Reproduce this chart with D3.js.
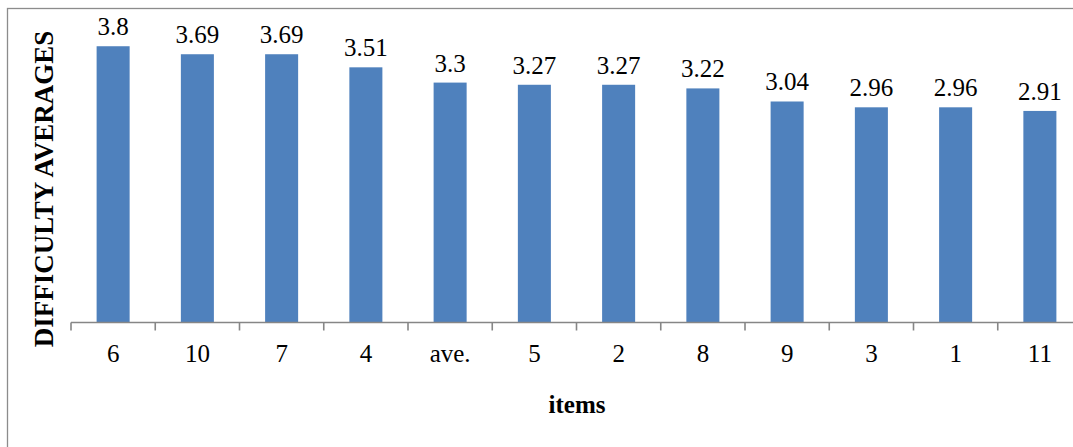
<!DOCTYPE html>
<html>
<head>
<meta charset="utf-8">
<script src="https://cdn.jsdelivr.net/npm/d3@7/dist/d3.min.js"></script>
<style>
  html, body { margin: 0; padding: 0; background: #fff; }
  svg { display: block; }
</style>
</head>
<body>
<svg id="chart" width="1073" height="447"></svg>
<script>
const categories = ["6", "10", "7", "4", "ave.", "5", "2", "8", "9", "3", "1", "11"];
const values = [3.8, 3.69, 3.69, 3.51, 3.3, 3.27, 3.27, 3.22, 3.04, 2.96, 2.96, 2.91];
const labels = ["3.8", "3.69", "3.69", "3.51", "3.3", "3.27", "3.27", "3.22", "3.04", "2.96", "2.96", "2.91"];
const yTitle = "DIFFICULTY AVERAGES";
const xTitle = "items";

const FONT = "'Liberation Serif', Tinos, 'Times New Roman', 'DejaVu Serif', serif";

const svg = d3.select("#chart").style("font-family", FONT);
const W = 1073, H = 447;

// outer frame (clipped at right/bottom like the reference)
svg.append("rect")
  .attr("x", 7.5).attr("y", 8.5)
  .attr("width", 1200).attr("height", 600)
  .attr("fill", "none").attr("stroke", "#8c8c8c").attr("stroke-width", 1.3);

const plotLeft = 71, step = 84.25;
const x = d3.scaleBand().domain(categories)
  .range([plotLeft, plotLeft + step * categories.length]).padding(0);
const y = d3.scaleLinear().domain([0, 4]).range([322.5, 31.7]);

const barW = x.bandwidth() * 0.392;

svg.append("g").selectAll("rect")
  .data(categories)
  .join("rect")
  .attr("x", (d) => x(d) + x.bandwidth() / 2 - barW / 2)
  .attr("y", (d, i) => y(values[i]))
  .attr("width", barW)
  .attr("height", (d, i) => y(0) - y(values[i]))
  .attr("fill", "#4F81BD");

// value labels
svg.append("g").selectAll("text")
  .data(categories)
  .join("text")
  .attr("x", (d) => x(d) + x.bandwidth() / 2)
  .attr("y", (d, i) => y(values[i]) - 11)
  .attr("text-anchor", "middle")
  .style("font-family", FONT)
  .attr("font-size", 25)
  .attr("fill", "#000")
  .text((d, i) => labels[i]);

// x axis
const axisG = svg.append("g").attr("transform", `translate(0,${y(0)})`);
axisG.call(d3.axisBottom(x).tickSize(0).tickPadding(22));
axisG.attr("font-family", null).attr("font-size", null);
axisG.select(".domain").remove();
axisG.selectAll("text")
  .style("font-family", FONT)
  .attr("font-size", 25)
  .attr("fill", "#000")
  .attr("dy", "0.71em");
axisG.append("line")
  .attr("x1", plotLeft).attr("x2", W + 20)
  .attr("y1", 0).attr("y2", 0)
  .attr("stroke", "#868686").attr("stroke-width", 1.6);
const bounds = categories.map((d) => x(d)).concat([x.range()[1]]);
axisG.selectAll("line.tk")
  .data(bounds)
  .join("line")
  .attr("class", "tk")
  .attr("x1", (d) => d).attr("x2", (d) => d)
  .attr("y1", 0).attr("y2", 8)
  .attr("stroke", "#868686").attr("stroke-width", 1.6);

// axis titles
svg.append("text")
  .attr("transform", `translate(53,${189}) rotate(-90)`)
  .attr("text-anchor", "middle")
  .style("font-family", FONT)
  .attr("font-size", 27)
  .attr("font-weight", "bold")
  .attr("fill", "#000")
  .text(yTitle);

svg.append("text")
  .attr("x", 577).attr("y", 413)
  .attr("text-anchor", "middle")
  .style("font-family", FONT)
  .attr("font-size", 25)
  .attr("font-weight", "bold")
  .attr("fill", "#000")
  .text(xTitle);
</script>
</body>
</html>
